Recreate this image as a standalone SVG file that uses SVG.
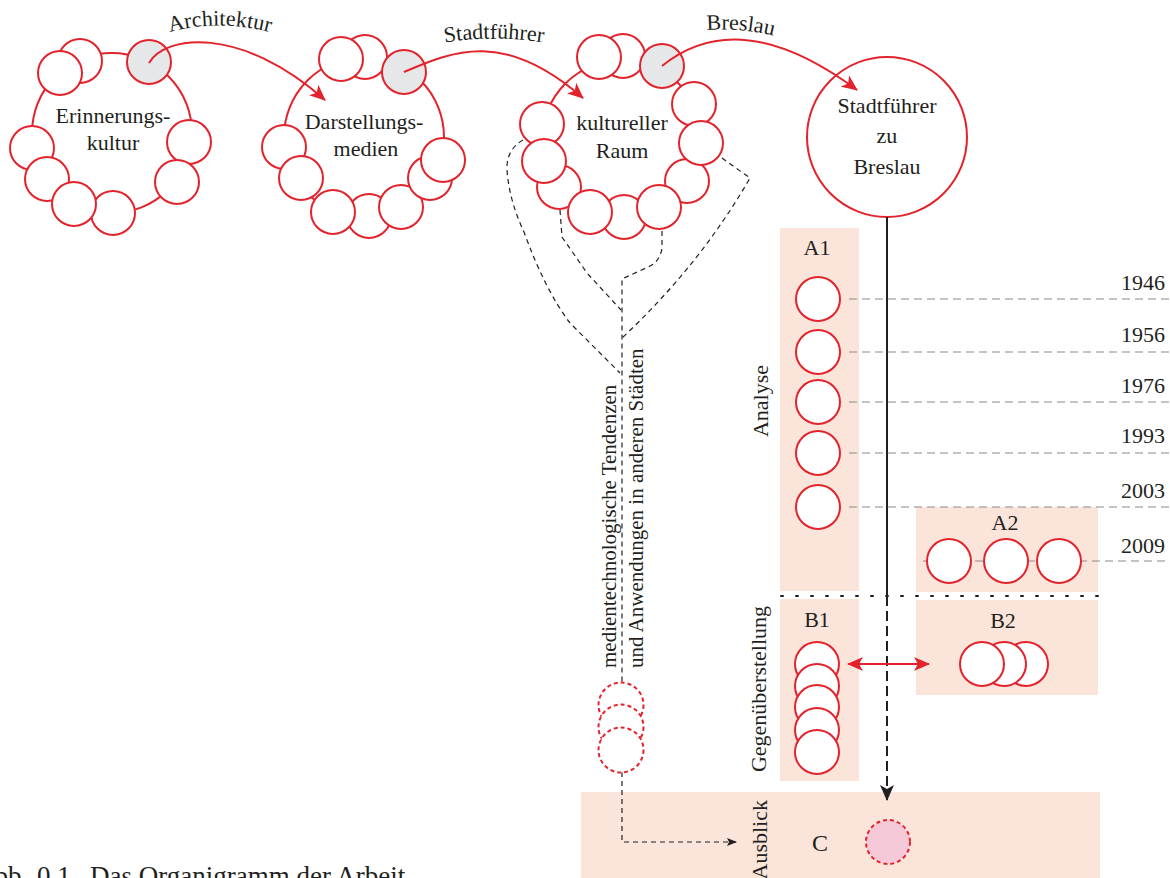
<svg xmlns="http://www.w3.org/2000/svg" width="1170" height="878" viewBox="0 0 1170 878">
<style>
text{font-family:"Liberation Serif",serif;fill:#231f20;font-size:22px}
.mid{text-anchor:middle}
.big{fill:none;stroke:#e3232c;stroke-width:2}
.sm{fill:#fff;stroke:#e3232c;stroke-width:2}
.gr{fill:#e6e7e8;stroke:#e3232c;stroke-width:2}
.dsm{fill:#fff;stroke:#e3232c;stroke-width:2;stroke-dasharray:4 3}
.sec{fill:#fbe4da}
.yr{stroke:#8a8a8a;stroke-width:1.2;stroke-dasharray:8 5;fill:none}
.yt{text-anchor:end}
.dl{stroke:#231f20;stroke-width:1.2;stroke-dasharray:5 4;fill:none}
.rc{stroke:#e3232c;stroke-width:2;fill:none}
.vt{font-size:21px}
.cap{font-size:27px}
.cc{font-size:24px}
</style>
<defs>
<marker id="ar" viewBox="0 0 16 14" refX="15" refY="7" markerWidth="16" markerHeight="14" markerUnits="userSpaceOnUse" orient="auto-start-reverse"><path d="M0,0 L16,7 L0,14 L4,7 z" fill="#e3232c"/></marker>
<marker id="ab" viewBox="0 0 16 14" refX="15" refY="7" markerWidth="16" markerHeight="14" markerUnits="userSpaceOnUse" orient="auto"><path d="M0,0 L16,7 L0,14 L4,7 z" fill="#231f20"/></marker>
<marker id="abs" viewBox="0 0 10 8" refX="9" refY="4" markerWidth="10" markerHeight="8" markerUnits="userSpaceOnUse" orient="auto"><path d="M0,0 L10,4 L0,8 L2,4 z" fill="#231f20"/></marker>
<path id="p1" d="M158,36 Q218,15 282,36"/>
<path id="p2" d="M431,45 Q493,32 557,45"/>
<path id="p3" d="M698,31 Q740,26 782,38"/>
</defs>

<g id="sections">
<rect class="sec" x="780" y="228" width="79" height="363"/>
<rect class="sec" x="916" y="507" width="182" height="85"/>
<rect class="sec" x="780" y="599" width="79" height="182"/>
<rect class="sec" x="916" y="600" width="182" height="95"/>
<rect class="sec" x="581" y="792" width="519" height="90"/>
</g>

<g id="separator">
<line x1="781" y1="596" x2="1105" y2="596" stroke="#231f20" stroke-width="2" stroke-dasharray="2 13" stroke-linecap="round"/>
</g>

<g id="erinnerungskultur">
<circle class="big" cx="112" cy="133" r="80"/>
<circle class="sm" cx="80" cy="61" r="22"/>
<circle class="sm" cx="60" cy="73" r="22"/>
<circle class="gr" cx="149" cy="62" r="22"/>
<circle class="sm" cx="32" cy="148" r="22"/>
<circle class="sm" cx="47" cy="179" r="22"/>
<circle class="sm" cx="113" cy="213" r="22"/>
<circle class="sm" cx="74" cy="204" r="22"/>
<circle class="sm" cx="189" cy="142" r="22"/>
<circle class="sm" cx="177" cy="182" r="22"/>
<text class="mid" x="113" y="123">Erinnerungs-</text>
<text class="mid" x="113" y="150">kultur</text>
</g>

<g id="darstellungsmedien">
<circle class="big" cx="364" cy="137" r="80"/>
<circle class="sm" cx="365" cy="57" r="22"/>
<circle class="sm" cx="341" cy="59" r="22"/>
<circle class="gr" cx="404" cy="72" r="22"/>
<circle class="sm" cx="284" cy="147" r="22"/>
<circle class="sm" cx="301" cy="178" r="22"/>
<circle class="sm" cx="369" cy="216" r="22"/>
<circle class="sm" cx="333" cy="212" r="22"/>
<circle class="sm" cx="401" cy="207" r="22"/>
<circle class="sm" cx="430" cy="178" r="22"/>
<circle class="sm" cx="443" cy="160" r="22"/>
<text class="mid" x="364" y="129">Darstellungs-</text>
<text class="mid" x="366" y="156">medien</text>
</g>

<g id="kultureller-raum">
<circle class="big" cx="622" cy="140" r="80"/>
<circle class="sm" cx="623" cy="56" r="22"/>
<circle class="sm" cx="599" cy="57" r="22"/>
<circle class="gr" cx="662" cy="66" r="22"/>
<circle class="sm" cx="542" cy="124" r="22"/>
<circle class="sm" cx="559" cy="187" r="22"/>
<circle class="sm" cx="544" cy="161" r="22"/>
<circle class="sm" cx="624" cy="217" r="22"/>
<circle class="sm" cx="590" cy="212" r="22"/>
<circle class="sm" cx="687" cy="181" r="22"/>
<circle class="sm" cx="659" cy="207" r="22"/>
<circle class="sm" cx="694" cy="104" r="22"/>
<circle class="sm" cx="701" cy="143" r="22"/>
<text class="mid" x="622" y="130">kultureller</text>
<text class="mid" x="622" y="158">Raum</text>
</g>

<g id="stadtfuehrer-breslau">
<circle class="big" cx="887" cy="137" r="80" fill="#fff"/>
<text class="mid" x="887" y="113">Stadtführer</text>
<text class="mid" x="887" y="143">zu</text>
<text class="mid" x="887" y="174">Breslau</text>
</g>

<g id="connectors">
<line class="yr" x1="849" y1="299" x2="1170" y2="299"/>
<line class="yr" x1="849" y1="352" x2="1170" y2="352"/>
<line class="yr" x1="849" y1="402" x2="1170" y2="402"/>
<line class="yr" x1="849" y1="453" x2="1170" y2="453"/>
<line class="yr" x1="849" y1="507" x2="1170" y2="507"/>
<line class="yr" x1="923" y1="561" x2="1170" y2="561"/>
<path class="dl" d="M523,140 Q506,150 507,170 Q509,200 524,232 Q545,290 570,323 L620,373"/>
<path class="dl" d="M560,210 L562,237 L587,273 L621,310"/>
<path class="dl" d="M662,231 L662,248 Q660,262 648,267 L622,279 L622,682"/>
<path class="dl" d="M722,158 L750,178 Q700,265 622,338"/>
<path class="dl" d="M622,772 L622,842 L736,842" marker-end="url(#abs)"/>
<line x1="887" y1="217" x2="887" y2="596" stroke="#231f20" stroke-width="2"/>
<line x1="887" y1="596" x2="887" y2="800" stroke="#231f20" stroke-width="2" stroke-dasharray="10 5" marker-end="url(#ab)"/>
<line class="rc" x1="848" y1="664" x2="929" y2="664" marker-start="url(#ar)" marker-end="url(#ar)"/>
<path class="rc" d="M149,63 C165,35 240,25 325,100" marker-end="url(#ar)"/>
<path class="rc" d="M404,72 C455,50 505,30 583,98" marker-end="url(#ar)"/>
<path class="rc" d="M662,66 C700,35 760,18 857,90" marker-end="url(#ar)"/>
</g>

<g id="edge-labels">
<text class="mid"><textPath href="#p1" startOffset="50%">Architektur</textPath></text>
<text class="mid"><textPath href="#p2" startOffset="50%">Stadtführer</textPath></text>
<text class="mid"><textPath href="#p3" startOffset="50%">Breslau</textPath></text>
</g>

<g id="a1">
<text class="mid" x="817" y="255">A1</text>
<circle class="sm" cx="818" cy="299" r="22"/>
<circle class="sm" cx="818" cy="352" r="22"/>
<circle class="sm" cx="818" cy="402" r="22"/>
<circle class="sm" cx="818" cy="453" r="22"/>
<circle class="sm" cx="818" cy="507" r="22"/>
</g>

<g id="a2">
<text class="mid" x="1005" y="530">A2</text>
<circle class="sm" cx="949" cy="561" r="22"/>
<circle class="sm" cx="1006" cy="561" r="22"/>
<circle class="sm" cx="1059" cy="561" r="22"/>
</g>

<g id="b1">
<text class="mid" x="817" y="627">B1</text>
<circle class="sm" cx="817" cy="664" r="22"/>
<circle class="sm" cx="817" cy="686" r="22"/>
<circle class="sm" cx="817" cy="707" r="22"/>
<circle class="sm" cx="817" cy="730" r="22"/>
<circle class="sm" cx="817" cy="752" r="22"/>
</g>

<g id="b2">
<text class="mid" x="1003" y="628">B2</text>
<circle class="sm" cx="1026" cy="664" r="22"/>
<circle class="sm" cx="1004" cy="664" r="22"/>
<circle class="sm" cx="982" cy="664" r="22"/>
</g>

<g id="c">
<text class="mid cc" x="820" y="851">C</text>
<circle cx="888" cy="842" r="22" fill="#f6c9d9" stroke="#e3232c" stroke-width="2" stroke-dasharray="4 3"/>
</g>

<g id="medien-tendenzen">
<circle class="dsm" cx="621" cy="705" r="22.5"/>
<circle class="dsm" cx="621" cy="727" r="22.5"/>
<circle class="dsm" cx="621" cy="750" r="22.5"/>
<text class="vt" transform="translate(616,668) rotate(-90)">medientechnologische Tendenzen</text>
<text class="vt" transform="translate(643,668) rotate(-90)">und Anwendungen in anderen Städten</text>
</g>

<g id="years">
<text class="yt" x="1165" y="290">1946</text>
<text class="yt" x="1165" y="342">1956</text>
<text class="yt" x="1165" y="393">1976</text>
<text class="yt" x="1165" y="443">1993</text>
<text class="yt" x="1165" y="498">2003</text>
<text class="yt" x="1165" y="553">2009</text>
</g>

<g id="phase-labels">
<text class="mid" transform="translate(768,401) rotate(-90)">Analyse</text>
<text class="mid" transform="translate(766,689) rotate(-90)">Gegenüberstellung</text>
<text transform="translate(767,800) rotate(-90)" text-anchor="end">Ausblick</text>
</g>

<g id="caption">
<text class="cap" y="885"><tspan x="-25">Abb.</tspan><tspan x="37">0.1.</tspan><tspan x="90">Das Organigramm der Arbeit</tspan></text>
</g>
</svg>
